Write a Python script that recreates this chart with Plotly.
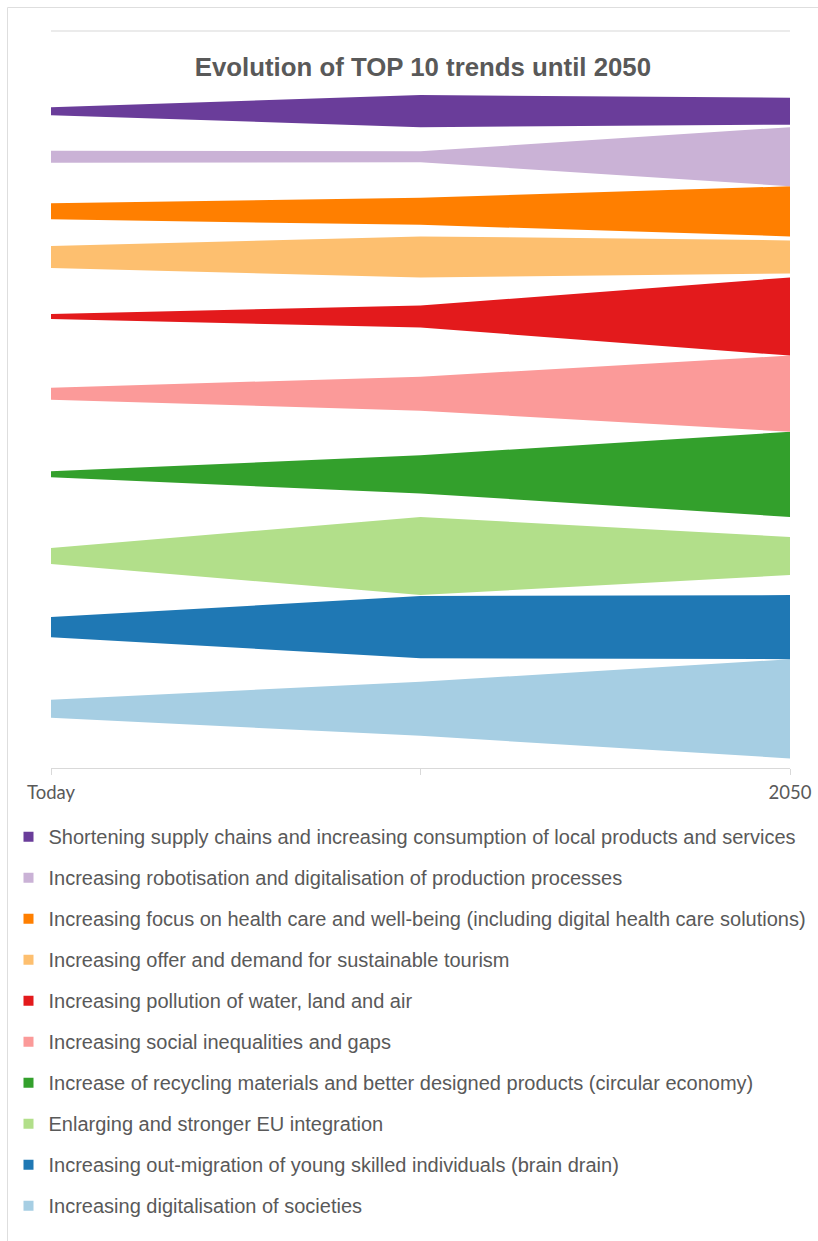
import plotly.graph_objects as go

# ---------------- data ----------------
periods = ["Today", "", "2050"]
x_pos = [0, 1, 2]

trends = [
    "Shortening supply chains and increasing consumption of local products and services",
    "Increasing robotisation and digitalisation of production processes",
    "Increasing focus on health care and well-being (including digital health care solutions)",
    "Increasing offer and demand for sustainable tourism",
    "Increasing pollution of water, land and air",
    "Increasing social inequalities and gaps",
    "Increase of recycling materials and better designed products (circular economy)",
    "Enlarging and stronger EU integration",
    "Increasing out-migration of young skilled individuals (brain drain)",
    "Increasing digitalisation of societies",
]

shortening = [0.8, 3.2, 2.7]
robotisation = [1.2, 1.1, 5.9]
health = [1.6, 2.7, 5.0]
tourism = [2.2, 4.1, 3.3]
pollution = [0.5, 2.2, 7.8]
inequalities = [1.2, 3.4, 7.6]
recycling = [0.6, 3.8, 8.5]
eu_integration = [1.6, 7.8, 3.8]
brain_drain = [2.0, 6.2, 6.4]
digital_soc = [1.8, 5.4, 9.9]

values = [shortening, robotisation, health, tourism, pollution,
          inequalities, recycling, eu_integration, brain_drain, digital_soc]

colors = ["#6a3d9a", "#cab2d6", "#ff7f00", "#fdbf6f", "#e31a1c",
          "#fb9a99", "#33a02c", "#b2df8a", "#1f78b4", "#a6cee3"]

# ---------------- figure ----------------
fig = go.Figure()

# stream bands: each band gets a slot as tall as its own maximum, centred in it
base = 0.0
bands = []
for name, vals, col in reversed(list(zip(trends, values, colors))):
    slot = max(vals)
    centre = base + slot / 2
    lower = [centre - v / 2 for v in vals]
    upper = [centre + v / 2 for v in vals]
    bands.append((name, lower, upper, col))
    base += slot

for name, lower, upper, col in bands:
    fig.add_trace(go.Scatter(x=x_pos, y=lower, mode="lines", line=dict(width=0),
                             showlegend=False, hoverinfo="skip"))
    fig.add_trace(go.Scatter(x=x_pos, y=upper, mode="lines", line=dict(width=0),
                             fill="tonexty", fillcolor=col, name=name,
                             showlegend=False, hoverinfo="skip"))

# legend entries (top to bottom order)
for i, (name, col) in enumerate(zip(trends, colors)):
    fig.add_trace(go.Scatter(x=[None], y=[None], mode="markers", name=name,
                             legendgroup=f"g{i}",
                             marker=dict(symbol="square", size=10, color=col)))

W_PLOT = 739.0
H_PLOT = 737.3
y_top = 72.6
fig.update_layout(
    template="none",
    width=818, height=1241,
    margin=dict(l=51, r=28, t=31, b=1241 - 31 - H_PLOT, autoexpand=False),
    paper_bgcolor="white", plot_bgcolor="white",
    title=dict(text="<b>Evolution of TOP 10 trends until 2050</b>",
               font=dict(family="Liberation Sans, Arial", size=25.8, color="#595959"),
               x=0.517, xref="container", xanchor="center",
               y=1 - 67 / 1241, yref="container", yanchor="middle"),
    xaxis=dict(range=[0, 2], tickvals=x_pos, ticktext=periods,
               showgrid=False, zeroline=False, automargin=False,
               showline=True, linecolor="#d9d9d9", linewidth=1,
               ticks="outside", ticklen=6, tickcolor="#d9d9d9",
               ticklabelstandoff=2,
               tickfont=dict(family="Lato, Open Sans", size=18.5, color="#595959")),
    yaxis=dict(range=[-0.96, y_top], showticklabels=False, ticks="",
               showgrid=False, zeroline=False, showline=False, automargin=False),
    legend=dict(x=(8.5 - 51) / W_PLOT, xanchor="left",
                y=(768.3 - 817.5) / H_PLOT, yanchor="top",
                font=dict(family="Liberation Sans, Arial", size=20, color="#595959"),
                tracegroupgap=12, bgcolor="rgba(0,0,0,0)", borderwidth=0),
    shapes=[
        dict(type="rect", xref="paper", yref="paper",
             x0=(7.5 - 51) / W_PLOT, x1=(822 - 51) / W_PLOT,
             y0=(768.3 - 1250) / H_PLOT, y1=(768.3 - 7.5) / H_PLOT,
             line=dict(color="#dedede", width=1), fillcolor="rgba(0,0,0,0)",
             layer="below"),
        dict(type="line", xref="paper", yref="paper", x0=0, x1=1, y0=1, y1=1,
             line=dict(color="#e4e4e4", width=1.5), layer="below"),
    ],
    showlegend=True,
)

fig.write_html("out.html")
